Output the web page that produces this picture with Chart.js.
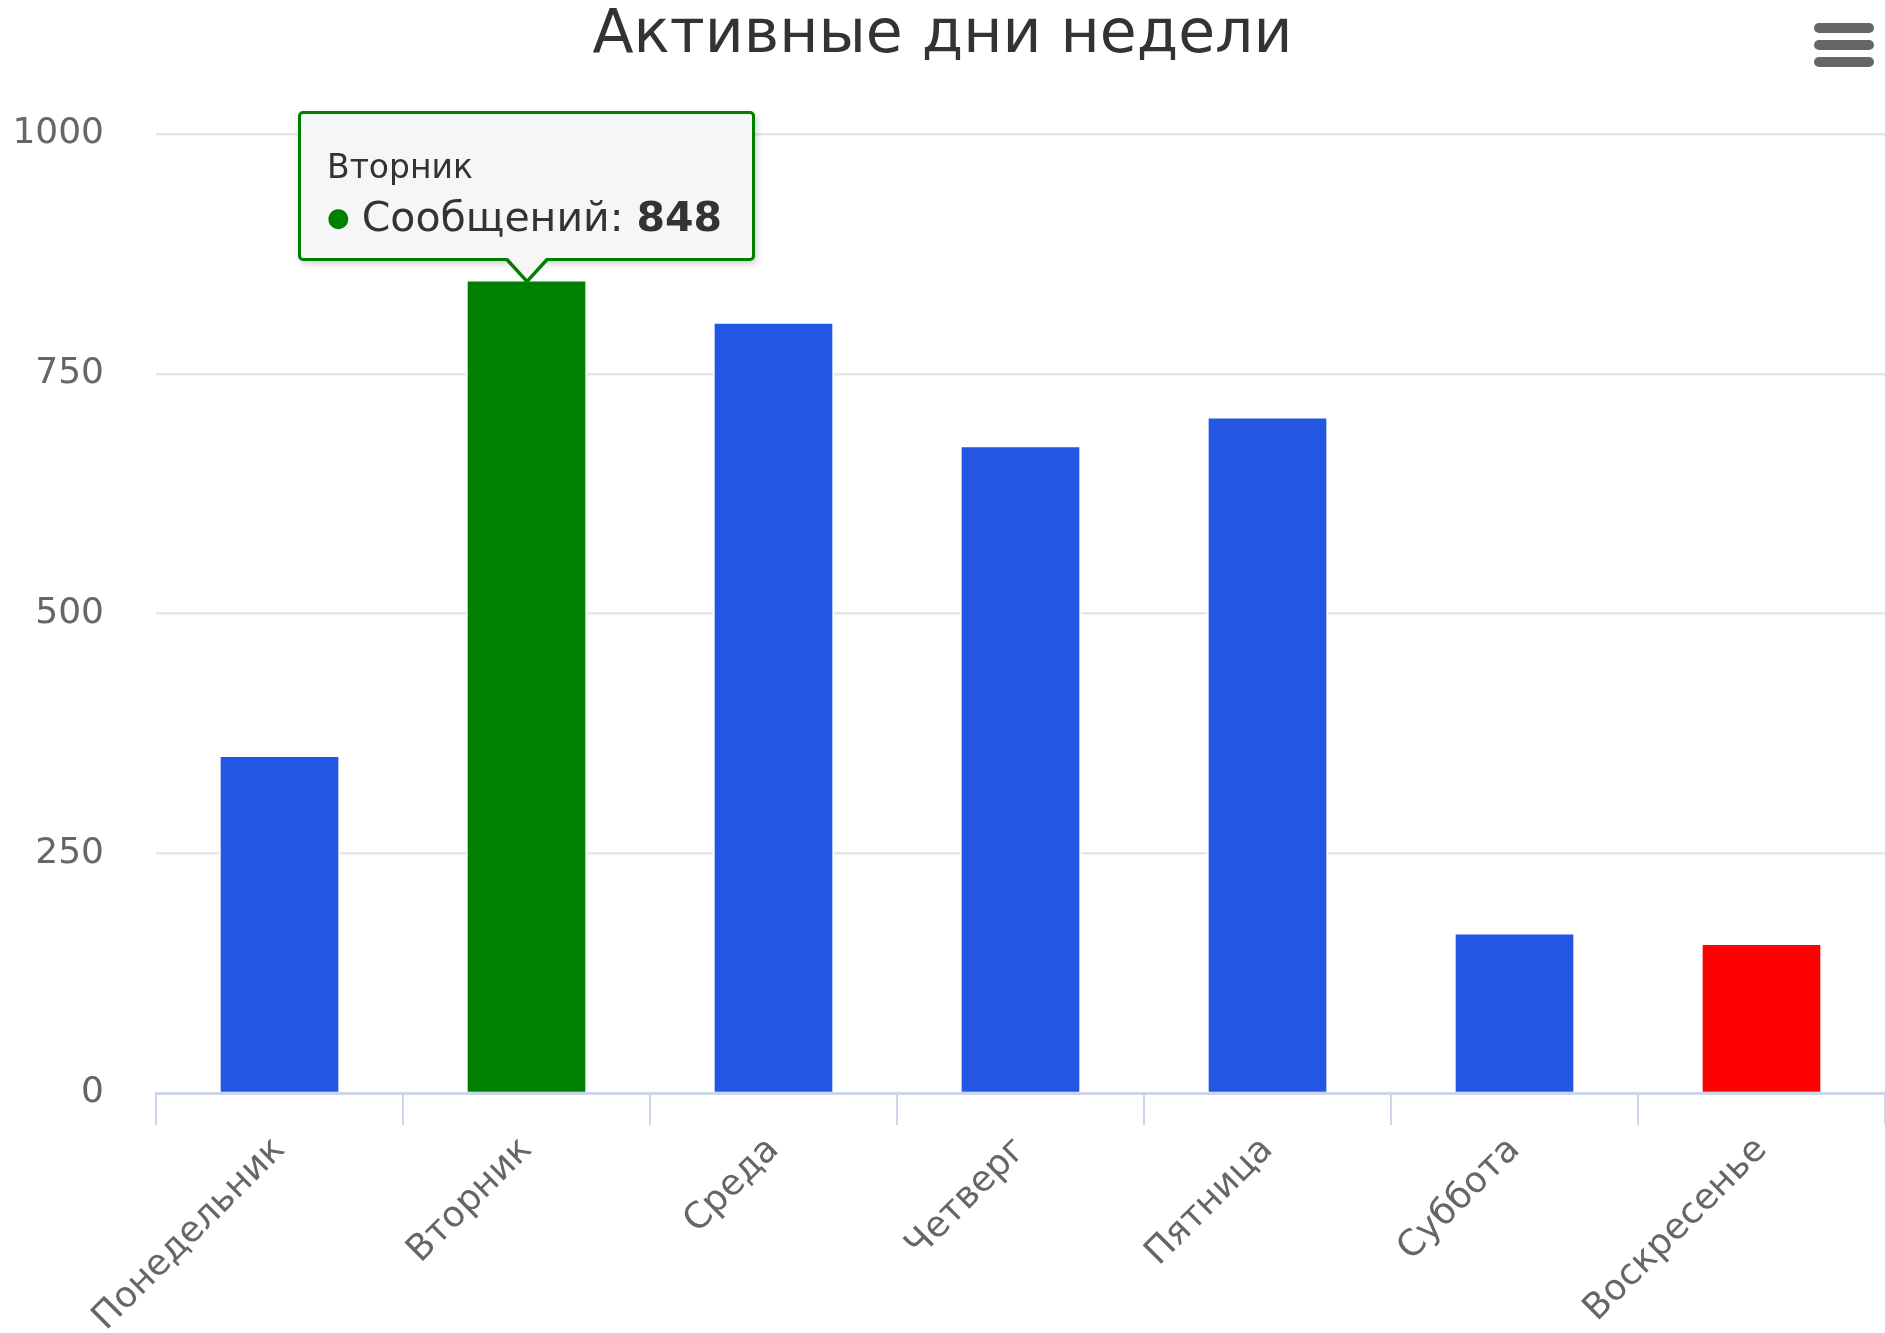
<!DOCTYPE html>
<html lang="ru">
<head>
<meta charset="utf-8">
<title>Активные дни недели</title>
<script src="https://cdn.jsdelivr.net/npm/chart.js@4.4.1/dist/chart.umd.min.js"></script>
<style>
  html, body { margin: 0; padding: 0; background: #fff; }
  #wrap { position: relative; width: 1885px; height: 1333px; overflow: hidden; }
  #tip {
    position: absolute; display: none;
    background: rgba(246, 246, 246, 0.96);
    border: 3px solid var(--c);
    border-radius: 5px;
    box-shadow: 2px 3px 6px rgba(0, 0, 0, 0.18);
    padding: 33px 30px 17px 26px;
    font-family: 'DejaVu Sans', sans-serif;
    color: #333;
    white-space: nowrap;
  }
  #tip .tt-title { font-size: 33px; line-height: 40px; margin-bottom: 6px; }
  #tip .tt-body { font-size: 41px; line-height: 48px; }
  #tip .dot { font-size: 26px; vertical-align: 5px; margin-right: 12px; }
  #tip::before, #tip::after {
    content: ''; position: absolute; left: 50%; width: 0; height: 0;
    border-left: 22px solid transparent; border-right: 22px solid transparent;
    transform: translateX(-50%);
  }
  #tip::before { bottom: -26px; border-top: 24px solid var(--c); }
  #tip::after { bottom: -21px; border-top: 21px solid rgba(246, 246, 246, 1); border-left-width: 19px; border-right-width: 19px; }
</style>
</head>
<body>
<div id="wrap">
  <canvas id="myChart" width="1885" height="1333"></canvas>
  <div id="tip"></div>
</div>
<script>
// data
const chartTitle = 'Активные дни недели';
const seriesName = 'Сообщений';
const days = ['Понедельник', 'Вторник', 'Среда', 'Четверг', 'Пятница', 'Суббота', 'Воскресенье'];
const messages = [352, 848, 804, 675, 705, 167, 156];
const yTicks = [0, 250, 500, 750, 1000];
const shownDay = 1; // day with the open tooltip

// styles
const fontName = 'DejaVu Sans';
const blue = '#2357e3';
const barColors = [blue, '#008000', blue, blue, blue, blue, '#ff0000'];

function renderTooltip(context) {
    const tip = context.tooltip;
    const el = document.getElementById('tip');
    if (tip.opacity === 0 || !tip.dataPoints || !tip.dataPoints.length) {
        el.style.display = 'none';
        return;
    }
    const item = tip.dataPoints[0];
    const color = tip.labelColors[0].backgroundColor;
    el.style.setProperty('--c', color);
    el.innerHTML =
        '<div class="tt-title">' + tip.title[0] + '</div>' +
        '<div class="tt-body"><span class="dot" style="color:' + color + '">●</span>' +
        item.dataset.label + ': <b>' + item.formattedValue + '</b></div>';
    el.style.display = 'block';
    el.style.left = (tip.caretX - el.offsetWidth / 2) + 'px';
    el.style.top = (tip.caretY - el.offsetHeight - 19) + 'px';
}

// the little "hamburger" menu button in the corner
const menuIcon = {
    id: 'menuIcon',
    afterDraw(chart) {
        const c = chart.ctx;
        c.save();
        c.strokeStyle = '#666';
        c.lineWidth = 10;
        c.lineCap = 'round';
        [28, 45, 62].forEach(y => {
            c.beginPath();
            c.moveTo(1819, y);
            c.lineTo(1869, y);
            c.stroke();
        });
        c.restore();
    }
};

const ctx = document.getElementById('myChart').getContext('2d');

const myChart = new Chart(ctx, {
    type: 'bar',
    data: {
        labels: days,
        datasets: [{
            label: seriesName,
            data: messages,
            backgroundColor: barColors,
            borderColor: '#ffffff',
            borderWidth: 2,
            barThickness: 121
        }]
    },
    options: {
        responsive: false,
        animation: false,
        events: [],
        layout: { padding: 0 },
        plugins: {
            legend: { display: false },
            title: {
                display: true,
                text: chartTitle,
                color: '#333',
                font: { family: fontName, size: 60, weight: 'normal' },
                padding: { top: 0, bottom: 62 }
            },
            tooltip: {
                enabled: false,
                external: renderTooltip
            }
        },
        scales: {
            x: {
                grid: {
                    offset: true,
                    drawOnChartArea: false,
                    drawTicks: true,
                    tickLength: 32,
                    color: '#ccd6eb',
                    lineWidth: 2
                },
                border: { color: '#ccd6eb', width: 3 },
                ticks: {
                    color: '#666',
                    font: { family: fontName, size: 36 },
                    minRotation: 45,
                    maxRotation: 45,
                    autoSkip: false,
                    padding: 4
                },
                afterFit: s => {
                    s.height = 240;
                    s.paddingLeft = 0;
                    s.paddingRight = 0;
                }
            },
            y: {
                min: yTicks[0],
                max: yTicks[yTicks.length - 1],
                afterBuildTicks: s => { s.ticks = yTicks.map(v => ({ value: v })); },
                ticks: {
                    color: '#666',
                    font: { family: fontName, size: 36 },
                    padding: 52,
                    callback: v => String(v)
                },
                grid: { color: '#e6e6e6', lineWidth: 2.5, drawTicks: false },
                border: { display: false },
                afterFit: s => {
                    s.width = 156;
                    s.paddingTop = 0;
                    s.paddingBottom = 0;
                }
            }
        }
    },
    plugins: [menuIcon]
});

myChart.tooltip.setActiveElements([{ datasetIndex: 0, index: shownDay }], { x: 0, y: 0 });
myChart.update();
</script>
</body>
</html>
